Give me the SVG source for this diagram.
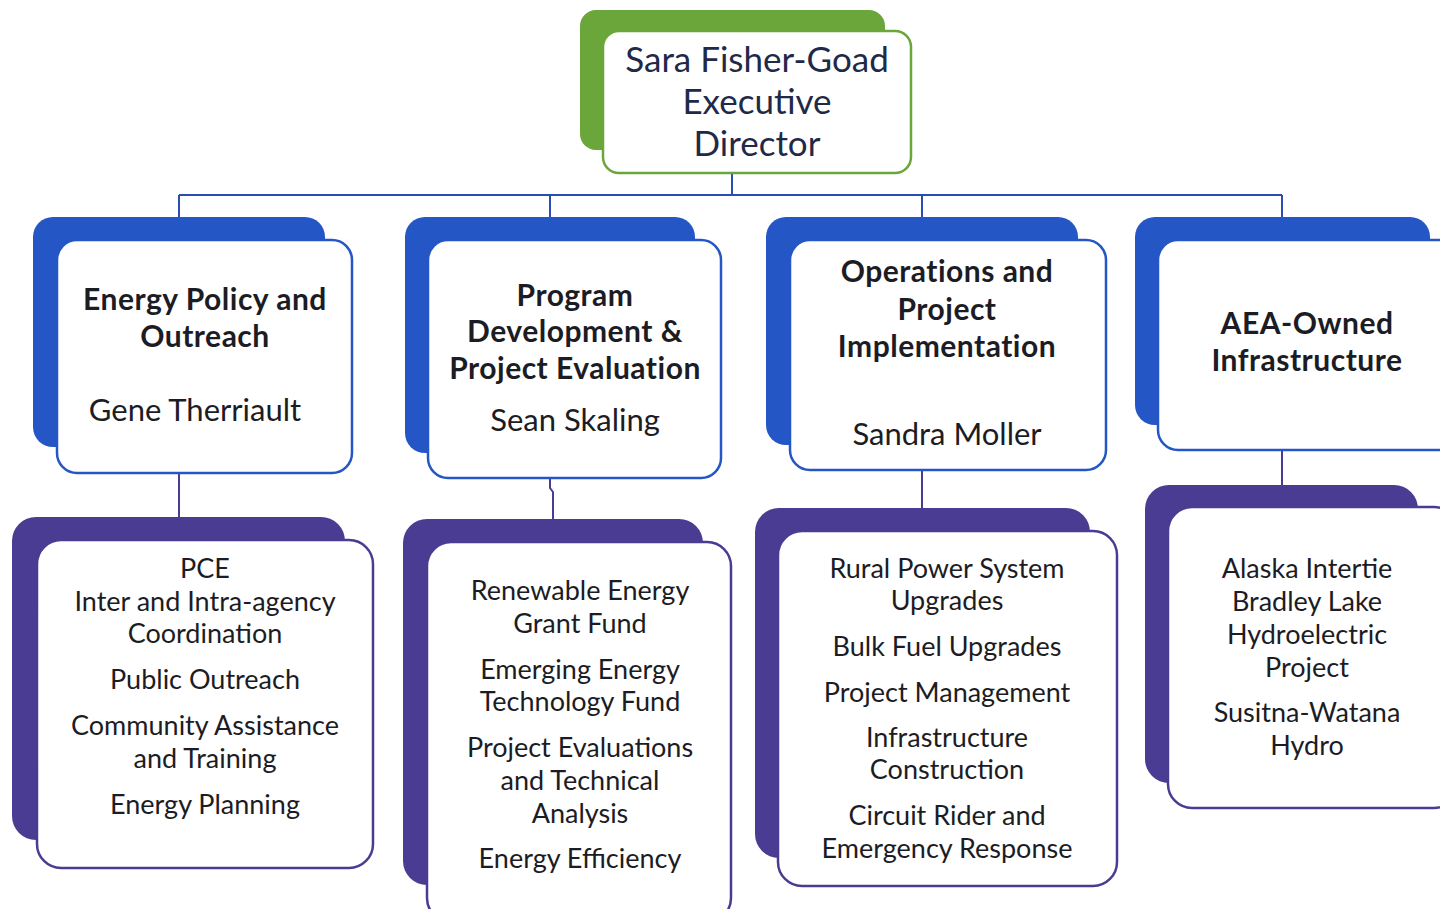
<svg xmlns="http://www.w3.org/2000/svg" width="1440" height="909" viewBox="0 0 1440 909">
<style>
.t{font-family:Lato,"Open Sans","Liberation Sans",sans-serif;text-anchor:middle;fill:#1c1c24}
.r{font-size:27px}
.n{font-size:31px}
.b{font-size:30px;font-weight:bold;letter-spacing:0.5px}
.top{font-size:35px;fill:#1f2a48}
.front{fill:#fff;stroke-width:2.5}
.sg{fill:#6aa63a}.sb{fill:#2456c6}.sp{fill:#4a3c92}
.fg{stroke:#6aa63a}.fb{stroke:#2456c6}.fp{stroke:#4a3c92}
.c{fill:none;stroke:#2a4db4;stroke-width:2}
.cp{fill:none;stroke:#4a3c92;stroke-width:2}
</style>
<rect width="1440" height="909" fill="#fff"/>
<g id="connectors">
<path class="c" d="M732 173V195M179 195H1282M179 195V218M550 195V218M922 195V218M1282 195V218"/>
<path class="cp" d="M179 473V517M550 478V488L553 492V519M922 470V508M1282 450V487"/>
</g>
<g id="director">
<rect class="sg" x="580" y="10" width="305" height="140" rx="16"/>
<rect class="front fg" x="603" y="31" width="308" height="142" rx="16"/>
<text class="t top" x="757" y="72">Sara Fisher-Goad</text>
<text class="t top" x="757" y="114">Executive</text>
<text class="t top" x="757" y="156">Director</text>
</g>
<g id="epo">
<rect class="sb" x="33" y="217" width="292" height="230" rx="20"/>
<rect class="front fb" x="57" y="240" width="295" height="233" rx="20"/>
<text class="t b" x="205" y="310">Energy Policy and</text>
<text class="t b" x="205" y="347">Outreach</text>
<text class="t n" x="195" y="421">Gene Therriault</text>
</g>
<g id="pdpe">
<rect class="sb" x="405" y="217" width="290" height="236" rx="20"/>
<rect class="front fb" x="428" y="240" width="293" height="238" rx="20"/>
<text class="t b" x="575" y="306">Program</text>
<text class="t b" x="575" y="342">Development &amp;</text>
<text class="t b" x="575" y="379">Project Evaluation</text>
<text class="t n" x="575" y="431">Sean Skaling</text>
</g>
<g id="opi">
<rect class="sb" x="766" y="217" width="312" height="228" rx="20"/>
<rect class="front fb" x="790" y="240" width="316" height="230" rx="20"/>
<text class="t b" x="947" y="282">Operations and</text>
<text class="t b" x="947" y="320">Project</text>
<text class="t b" x="947" y="357">Implementation</text>
<text class="t n" x="947" y="445">Sandra Moller</text>
</g>
<g id="aea">
<rect class="sb" x="1135" y="217" width="295" height="208" rx="20"/>
<rect class="front fb" x="1158" y="240" width="300" height="210" rx="20"/>
<text class="t b" x="1307" y="334">AEA-Owned</text>
<text class="t b" x="1307" y="371">Infrastructure</text>
</g>
<g id="epo-tasks">
<rect class="sp" x="12" y="517" width="333" height="323" rx="24"/>
<rect class="front fp" x="37" y="540" width="336" height="328" rx="24"/>
<text class="t r" x="205" y="578">PCE</text>
<text class="t r" x="205" y="611">Inter and Intra-agency</text>
<text class="t r" x="205" y="643">Coordination</text>
<text class="t r" x="205" y="689">Public Outreach</text>
<text class="t r" x="205" y="735">Community Assistance</text>
<text class="t r" x="205" y="768">and Training</text>
<text class="t r" x="205" y="814">Energy Planning</text>
</g>
<g id="pdpe-tasks">
<rect class="sp" x="403" y="519" width="300" height="366" rx="24"/>
<rect class="front fp" x="427" y="542" width="304" height="380" rx="24"/>
<text class="t r" x="580" y="600">Renewable Energy</text>
<text class="t r" x="580" y="633">Grant Fund</text>
<text class="t r" x="580" y="679">Emerging Energy</text>
<text class="t r" x="580" y="711">Technology Fund</text>
<text class="t r" x="580" y="757">Project Evaluations</text>
<text class="t r" x="580" y="790">and Technical</text>
<text class="t r" x="580" y="823">Analysis</text>
<text class="t r" x="580" y="868">Energy Efficiency</text>
</g>
<g id="opi-tasks">
<rect class="sp" x="755" y="508" width="335" height="350" rx="24"/>
<rect class="front fp" x="778" y="531" width="339" height="355" rx="24"/>
<text class="t r" x="947" y="578">Rural Power System</text>
<text class="t r" x="947" y="610">Upgrades</text>
<text class="t r" x="947" y="656">Bulk Fuel Upgrades</text>
<text class="t r" x="947" y="702">Project Management</text>
<text class="t r" x="947" y="747">Infrastructure</text>
<text class="t r" x="947" y="779">Construction</text>
<text class="t r" x="947" y="825">Circuit Rider and</text>
<text class="t r" x="947" y="858">Emergency Response</text>
</g>
<g id="aea-tasks">
<rect class="sp" x="1145" y="485" width="273" height="298" rx="24"/>
<rect class="front fp" x="1168" y="507" width="290" height="301" rx="24"/>
<text class="t r" x="1307" y="578">Alaska Intertie</text>
<text class="t r" x="1307" y="611">Bradley Lake</text>
<text class="t r" x="1307" y="644">Hydroelectric</text>
<text class="t r" x="1307" y="677">Project</text>
<text class="t r" x="1307" y="722">Susitna-Watana</text>
<text class="t r" x="1307" y="755">Hydro</text>
</g>
</svg>
